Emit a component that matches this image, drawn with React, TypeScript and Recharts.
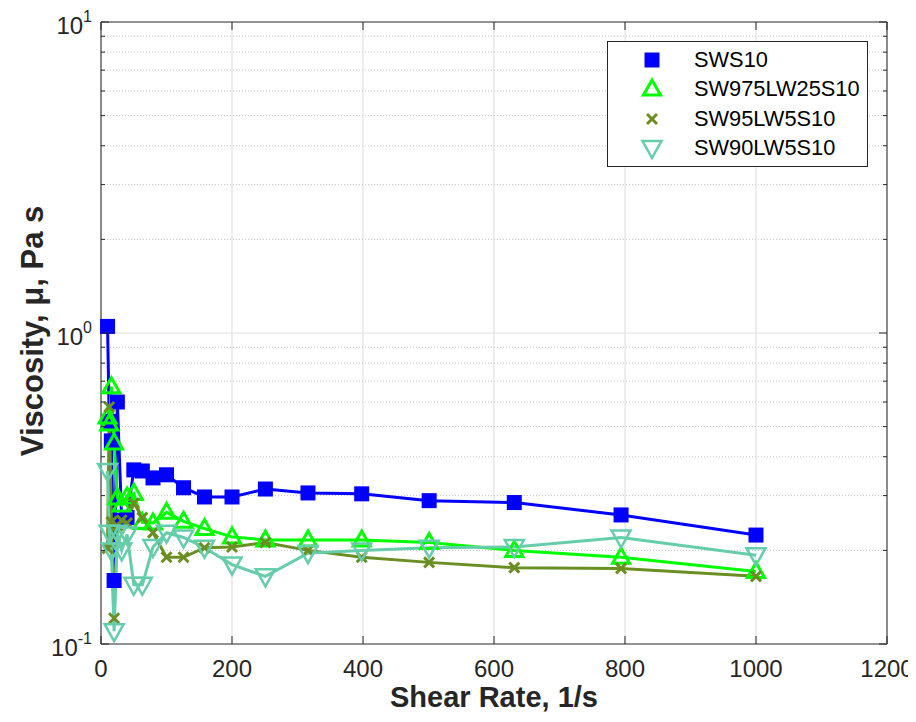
import React from "react";
import { LineChart, Line, XAxis, YAxis, CartesianGrid, ReferenceLine } from "recharts";

// shear rates (1/s), 10 points per decade
const SHEAR_RATE = [10, 12.6, 15.8, 20, 25, 31.6, 39.8, 50.1, 63.1, 79.4, 100, 126, 158, 200, 251, 316, 398, 501, 631, 794, 1000];

// viscosity, Pa s
const SWS10 = [1.05, 0.52, 0.45, 0.16, 0.6, 0.25, 0.255, 0.363, 0.36, 0.342, 0.35, 0.318, 0.297, 0.297, 0.315, 0.306, 0.304, 0.289, 0.285, 0.26, 0.224];
const SW975LW25S10 = [0.537, 0.51, 0.672, 0.443, 0.295, 0.28, 0.297, 0.305, 0.246, 0.245, 0.265, 0.248, 0.235, 0.221, 0.216, 0.216, 0.216, 0.212, 0.2, 0.19, 0.171];
const SW95LW5S10 = [0.203, 0.578, 0.247, 0.121, 0.24, 0.25, 0.245, 0.284, 0.255, 0.228, 0.19, 0.19, 0.204, 0.205, 0.212, 0.2, 0.19, 0.183, 0.176, 0.175, 0.165];
const SW90LW5S10 = [0.36, 0.228, 0.2, 0.11, 0.228, 0.2, 0.225, 0.155, 0.155, 0.205, 0.228, 0.22, 0.204, 0.18, 0.165, 0.196, 0.2, 0.204, 0.205, 0.22, 0.193];

const X_TICKS = [0, 200, 400, 600, 800, 1000, 1200];
const Y_MAJOR = [0.1, 1, 10];
const Y_MINOR = [0.2, 0.3, 0.4, 0.5, 0.6, 0.7, 0.8, 0.9, 2, 3, 4, 5, 6, 7, 8, 9];

const BLUE = "#0000ff";
const GREEN = "#00ff00";
const OLIVE = "#6b8e23";
const TEAL = "#66cdaa";
const AXIS = "#262626";
const FONT = '"Liberation Sans", Arial, Helvetica, sans-serif';

const CHART_W = 900;
const CHART_H = 706;
const MARGIN = { top: 14, right: 21, left: 0, bottom: 0 };
const Y_AXIS_W = 93;
const X_AXIS_H = 70;
const PLOT_LEFT = MARGIN.left + Y_AXIS_W;
const PLOT_RIGHT = CHART_W - MARGIN.right;
const PLOT_TOP = MARGIN.top;
const PLOT_BOTTOM = CHART_H - MARGIN.bottom - X_AXIS_H;

const data = SHEAR_RATE.map((x, i) => ({
  x,
  sws: SWS10[i],
  sw975: SW975LW25S10[i],
  sw95: SW95LW5S10[i],
  sw90: SW90LW5S10[i],
}));

const Square = ({ cx, cy, color }: any) => (
  <rect x={cx - 7.5} y={cy - 7.5} width={15} height={15} fill={color} />
);
const TriUp = ({ cx, cy, color }: any) => (
  <polygon
    points={`${cx},${cy - 9} ${cx - 8.5},${cy + 6} ${cx + 8.5},${cy + 6}`}
    fill="none"
    stroke={color}
    strokeWidth={3}
  />
);
const TriDown = ({ cx, cy, color }: any) => (
  <polygon
    points={`${cx},${cy + 10} ${cx - 9.5},${cy - 7} ${cx + 9.5},${cy - 7}`}
    fill="none"
    stroke={color}
    strokeWidth={2.5}
  />
);
const Cross = ({ cx, cy, color }: any) => (
  <g stroke={color} strokeWidth={3}>
    <line x1={cx - 5} y1={cy - 5} x2={cx + 5} y2={cy + 5} />
    <line x1={cx - 5} y1={cy + 5} x2={cx + 5} y2={cy - 5} />
  </g>
);

const SERIES = [
  { key: "sws", name: "SWS10", color: BLUE, Marker: Square },
  { key: "sw975", name: "SW975LW25S10", color: GREEN, Marker: TriUp },
  { key: "sw95", name: "SW95LW5S10", color: OLIVE, Marker: Cross },
  { key: "sw90", name: "SW90LW5S10", color: TEAL, Marker: TriDown },
];

function YTick({ y, payload }: any) {
  const v = payload.value;
  const major = Y_MAJOR.includes(v);
  const len = major ? 8 : 4;
  return (
    <g>
      <line x1={PLOT_LEFT} x2={PLOT_LEFT + len} y1={y} y2={y} stroke={AXIS} />
      <line x1={PLOT_RIGHT} x2={PLOT_RIGHT - len} y1={y} y2={y} stroke={AXIS} />
      {major && (
        <text x={PLOT_LEFT - 9} y={y + 12} textAnchor="end" fill={AXIS} fontSize={24} fontFamily={FONT}>
          10
          <tspan dy={-12} fontSize={16}>
            {Math.round(Math.log10(v))}
          </tspan>
        </text>
      )}
    </g>
  );
}

function XTick({ x, payload }: any) {
  return (
    <g>
      <line x1={x} x2={x} y1={PLOT_BOTTOM} y2={PLOT_BOTTOM - 8} stroke={AXIS} />
      <line x1={x} x2={x} y1={PLOT_TOP} y2={PLOT_TOP + 8} stroke={AXIS} />
      <text x={x} y={PLOT_BOTTOM + 33} textAnchor="middle" fill={AXIS} fontSize={24} fontFamily={FONT}>
        {payload.value}
      </text>
    </g>
  );
}

function LegendBox() {
  return (
    <div
      style={{
        position: "absolute",
        left: 599,
        top: 33,
        width: 261,
        height: 126,
        boxSizing: "border-box",
        border: `1px solid ${AXIS}`,
        background: "#fff",
        fontFamily: FONT,
        fontSize: 21.8,
        color: "#000",
      }}
    >
      {SERIES.map((s, i) => (
        <div
          key={s.key}
          style={{ position: "absolute", left: 0, top: 18 + i * 29.3 - 14, height: 28, width: "100%" }}
        >
          <svg width={30} height={28} style={{ position: "absolute", left: 29, top: 0 }}>
            <s.Marker cx={15} cy={14} color={s.color} />
          </svg>
          <span style={{ position: "absolute", left: 86, top: 2, lineHeight: "24px", whiteSpace: "nowrap" }}>
            {s.name}
          </span>
        </div>
      ))}
    </div>
  );
}

export default function App() {
  return (
    <div style={{ position: "relative", width: CHART_W, height: CHART_H, background: "#fff" }}>
      <LineChart width={CHART_W} height={CHART_H} data={data} margin={MARGIN}>
        <CartesianGrid horizontal={false} stroke="#e2e2e2" strokeWidth={1.2} />
        {Y_MINOR.map((v) => (
          <ReferenceLine key={v} y={v} stroke="#c4c4c4" strokeDasharray="1 2" />
        ))}
        <ReferenceLine y={1} stroke="#e2e2e2" strokeWidth={1.2} />
        <XAxis
          dataKey="x"
          type="number"
          domain={[0, 1200]}
          ticks={X_TICKS}
          interval={0}
          height={X_AXIS_H}
          tickLine={false}
          axisLine={{ stroke: AXIS }}
          tick={<XTick />}
          label={{
            content: () => (
              <text
                x={(PLOT_LEFT + PLOT_RIGHT) / 2}
                y={CHART_H - 7}
                textAnchor="middle"
                fontSize={29}
                fontWeight="bold"
                fill={AXIS}
                fontFamily={FONT}
              >
                Shear Rate, 1/s
              </text>
            ),
          }}
        />
        <YAxis
          type="number"
          scale="log"
          domain={[0.1, 10]}
          allowDataOverflow
          ticks={[...Y_MAJOR, ...Y_MINOR].sort((a, b) => a - b)}
          interval={0}
          width={Y_AXIS_W}
          tickLine={false}
          axisLine={{ stroke: AXIS }}
          tick={<YTick />}
          label={{
            content: () => (
              <text
                transform={`translate(24, ${(PLOT_TOP + PLOT_BOTTOM) / 2 - 2}) rotate(-90)`}
                textAnchor="middle"
                dominantBaseline="central"
                fontSize={31}
                fontWeight="bold"
                fill={AXIS}
                fontFamily={FONT}
              >
                Viscosity, μ, Pa s
              </text>
            ),
          }}
        />
        <ReferenceLine y={10} stroke={AXIS} />
        <ReferenceLine x={1200} stroke={AXIS} />
        {SERIES.map((s) => (
          <Line
            key={s.key}
            dataKey={s.key}
            name={s.name}
            type="linear"
            stroke={s.color}
            strokeWidth={3}
            isAnimationActive={false}
            dot={(p: any) => <s.Marker key={`${s.key}-${p.index}`} cx={p.cx} cy={p.cy} color={s.color} />}
            activeDot={false}
          />
        ))}
      </LineChart>
      <LegendBox />
    </div>
  );
}
